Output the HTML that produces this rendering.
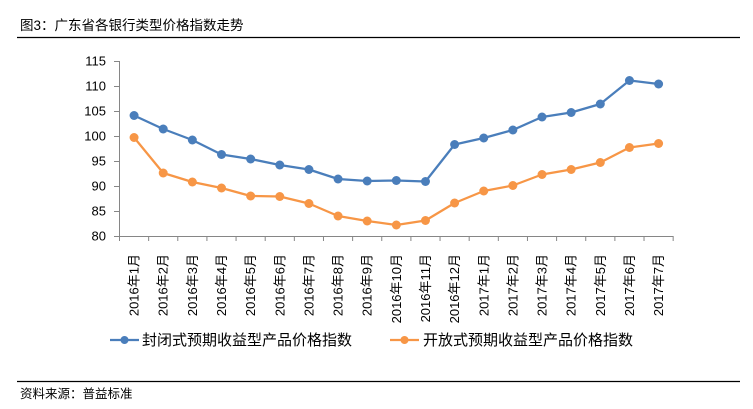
<!DOCTYPE html>
<html><head><meta charset="utf-8"><style>
html,body{margin:0;padding:0;background:#fff;}
svg{display:block;}
text{font-family:"Liberation Sans","Noto Sans CJK SC",sans-serif;}
</style></head><body>
<svg width="753" height="409" viewBox="0 0 753 409" xmlns="http://www.w3.org/2000/svg">
<rect width="753" height="409" fill="#fff"/>
<text x="20" y="30" font-size="13.5" fill="#000">图3：广东省各银行类型价格指数走势</text>
<line x1="17" y1="37.5" x2="740" y2="37.5" stroke="#000" stroke-width="1.2"/>
<g font-size="13" fill="#000" text-anchor="end">
<text x="106" y="65.5">115</text>
<text x="106" y="90.5">110</text>
<text x="106" y="115.5">105</text>
<text x="106" y="140.5">100</text>
<text x="106" y="165.5">95</text>
<text x="106" y="190.5">90</text>
<text x="106" y="215.5">85</text>
<text x="106" y="240.5">80</text>
</g>
<g stroke="#868686" stroke-width="1">
<line x1="119.5" y1="61" x2="119.5" y2="236"/>
<line x1="114" y1="61.5" x2="119.5" y2="61.5"/>
<line x1="114" y1="86.5" x2="119.5" y2="86.5"/>
<line x1="114" y1="111.5" x2="119.5" y2="111.5"/>
<line x1="114" y1="136.5" x2="119.5" y2="136.5"/>
<line x1="114" y1="161.5" x2="119.5" y2="161.5"/>
<line x1="114" y1="186.5" x2="119.5" y2="186.5"/>
<line x1="114" y1="211.5" x2="119.5" y2="211.5"/>
<line x1="114" y1="236.5" x2="673" y2="236.5"/>
</g>
<g id="xt" stroke="#868686" stroke-width="1"></g>
<g id="xl" font-size="13" fill="#000"></g>
<polyline id="bl" fill="none" stroke="#4A7EBB" stroke-width="2.25" stroke-linejoin="round"/>
<polyline id="ol" fill="none" stroke="#F79646" stroke-width="2.25" stroke-linejoin="round"/>
<g id="bm" fill="#4A7EBB"></g>
<g id="om" fill="#F79646"></g>
<line x1="110" y1="340" x2="139" y2="340" stroke="#4A7EBB" stroke-width="2.25"/>
<circle cx="124.5" cy="340" r="4" fill="#4A7EBB"/>
<text x="142" y="345" font-size="15" fill="#000">封闭式预期收益型产品价格指数</text>
<line x1="390" y1="340" x2="419" y2="340" stroke="#F79646" stroke-width="2.25"/>
<circle cx="404.5" cy="340" r="4" fill="#F79646"/>
<text x="423" y="345" font-size="15" fill="#000">开放式预期收益型产品价格指数</text>
<line x1="17" y1="381.5" x2="740" y2="381.5" stroke="#000" stroke-width="1.2"/>
<text x="20" y="398" font-size="12.5" fill="#000">资料来源：普益标准</text>
</svg>
<script>
(function(){
var NS="http://www.w3.org/2000/svg";
var labels=["2016年1月","2016年2月","2016年3月","2016年4月","2016年5月","2016年6月","2016年7月","2016年8月","2016年9月","2016年10月","2016年11月","2016年12月","2017年1月","2017年2月","2017年3月","2017年4月","2017年5月","2017年6月","2017年7月"];
var blue=[104.1,101.4,99.2,96.3,95.4,94.2,93.3,91.4,91.0,91.1,90.9,98.3,99.6,101.2,103.8,104.7,106.4,111.1,110.4];
var orange=[99.7,92.6,90.8,89.6,88.0,87.9,86.5,84.0,83.0,82.2,83.1,86.6,89.0,90.1,92.3,93.3,94.7,97.7,98.5];
var x0=119.5,step=29.14;
function Y(v){return 236-(v-80)*5;}
var xt=document.getElementById("xt"),xl=document.getElementById("xl");
for(var i=0;i<=19;i++){var l=document.createElementNS(NS,"line");var x=x0+step*i;l.setAttribute("x1",x);l.setAttribute("x2",x);l.setAttribute("y1",236);l.setAttribute("y2",241);xt.appendChild(l);}
var bp=[],op=[];
for(var i=0;i<19;i++){
 var cx=x0+step*(i+0.5);
 var t=document.createElementNS(NS,"text");
 t.setAttribute("transform","translate("+(cx+4.5)+",254) rotate(-90)");
 t.setAttribute("text-anchor","end");
 t.textContent=labels[i];xl.appendChild(t);
 bp.push(cx+","+Y(blue[i]));op.push(cx+","+Y(orange[i]));
 var c=document.createElementNS(NS,"circle");c.setAttribute("cx",cx);c.setAttribute("cy",Y(blue[i]));c.setAttribute("r",4.5);document.getElementById("bm").appendChild(c);
 var d=document.createElementNS(NS,"circle");d.setAttribute("cx",cx);d.setAttribute("cy",Y(orange[i]));d.setAttribute("r",4.5);document.getElementById("om").appendChild(d);
}
document.getElementById("bl").setAttribute("points",bp.join(" "));
document.getElementById("ol").setAttribute("points",op.join(" "));
})();
</script>
</body></html>
